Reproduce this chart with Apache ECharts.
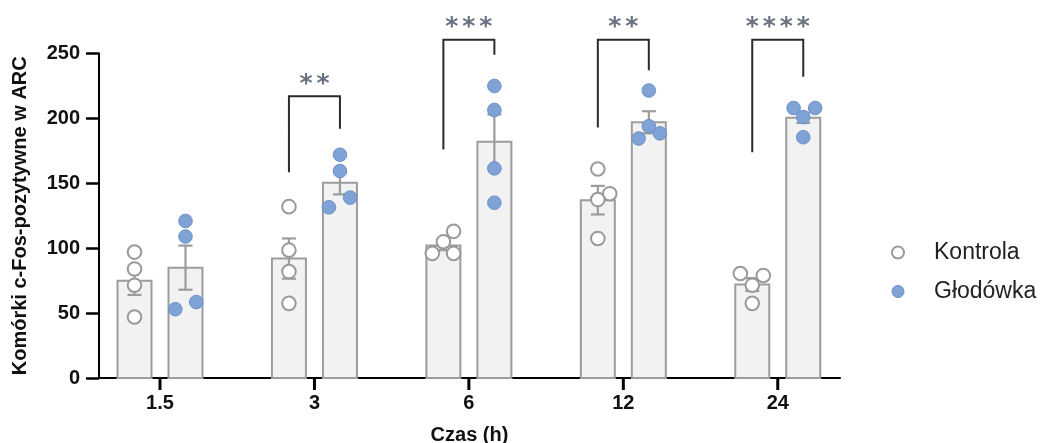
<!DOCTYPE html>
<html>
<head>
<meta charset="utf-8">
<script src="https://cdn.jsdelivr.net/npm/echarts@6/dist/echarts.min.js"></script>
<style>
  html, body { margin: 0; padding: 0; background: #fff; }
  #chart { width: 1041px; height: 443px; }
</style>
</head>
<body>
<div id="chart"></div>
<script>
// Time points (hours) and group summaries
const groups = ['1.5', '3', '6', '12', '24'];
const kontrolaMean = [75, 92, 102, 137, 72];
const kontrolaSem = [11, 15.5, 3.5, 11, 5];
const glodowkaMean = [85, 150.5, 182, 197, 200.5];
const glodowkaSem = [17, 9, 21, 8.5, 4];

// Individual animals per time point
const kontrolaPoints = [
  [97, 84, 71.5, 47],
  [132, 98.5, 82, 57.5],
  [113, 105, 96, 96],
  [161, 142, 137.5, 107.5],
  [80.5, 79, 71.5, 57.5]
];
const glodowkaPoints = [
  [121, 109, 53, 58.5],
  [172, 159.5, 139, 131.5],
  [225, 206.5, 161.5, 135],
  [221.5, 194, 184.5, 188.5],
  [208, 208, 201, 185.5]
];
// Horizontal spread of overlapping dots, as a fraction of the bar half-width
const kontrolaSpread = [
  [0, 0, 0, 0],
  [0, 0, 0, 0],
  [0.6, 0, -0.65, 0.6],
  [0, 0.7, 0, 0],
  [-0.7, 0.65, 0, 0]
];
const glodowkaSpread = [
  [0, 0, -0.6, 0.63],
  [0, 0, 0.6, -0.65],
  [0, 0, 0, 0],
  [0, 0, -0.6, 0.65],
  [-0.57, 0.7, 0, 0]
];

// Significance brackets: label, top of bracket, end of left leg, end of right leg
const sigLabel = ['', '**', '***', '**', '****'];
const bracketTop = [null, 217, 260.5, 260.5, 260.5];
const bracketLeftEnd = [null, 158.5, 176, 193, 174];
const bracketRightEnd = [null, 192, 249, 237, 232];

const yTicks = [0, 50, 100, 150, 200, 250];
const groupIndex = groups.map((g, i) => i);

// Drawing constants (pixels)
const BAR_HALF = 17;
const BAR_OFFSET = 25.5;
const CAP_HALF = 7;
const DOT_R = 6.8;
const BAR_FILL = '#f2f2f2';
const BAR_STROKE = '#9c9c9c';
const CTRL_STROKE = '#9a9a9a';
const FAST_FILL = '#7fa3d6';
const FAST_STROKE = '#6d91c6';
const FONT = 'Liberation Sans';

const chart = echarts.init(document.getElementById('chart'), null, { renderer: 'canvas' });

function barData(means, sems) {
  return means.map((m, i) => [i, m, sems[i]]);
}
function pointData(points, spread) {
  const out = [];
  points.forEach((vals, i) => vals.forEach((v, k) => out.push([i, v, spread[i][k]])));
  return out;
}

function renderBar(side) {
  return function (params, api) {
    const i = api.value(0);
    const top = api.coord([i, api.value(1)]);
    const base = api.coord([i, 0]);
    const cx = top[0] + side * BAR_OFFSET;
    return {
      type: 'rect',
      shape: { x: cx - BAR_HALF, y: top[1], width: BAR_HALF * 2, height: base[1] - top[1] },
      style: { fill: BAR_FILL, stroke: BAR_STROKE, lineWidth: 2 }
    };
  };
}

function renderError(side) {
  return function (params, api) {
    const i = api.value(0);
    const m = api.value(1);
    const s = api.value(2);
    const hi = api.coord([i, m + s]);
    const lo = api.coord([i, m - s]);
    const cx = hi[0] + side * BAR_OFFSET;
    const st = { stroke: BAR_STROKE, lineWidth: 2.2 };
    return {
      type: 'group',
      children: [
        { type: 'line', shape: { x1: cx, y1: hi[1], x2: cx, y2: lo[1] }, style: st },
        { type: 'line', shape: { x1: cx - CAP_HALF, y1: hi[1], x2: cx + CAP_HALF, y2: hi[1] }, style: st },
        { type: 'line', shape: { x1: cx - CAP_HALF, y1: lo[1], x2: cx + CAP_HALF, y2: lo[1] }, style: st }
      ]
    };
  };
}

function renderDots(side, fill, stroke, lw) {
  return function (params, api) {
    const i = api.value(0);
    const p = api.coord([i, api.value(1)]);
    const cx = p[0] + side * BAR_OFFSET + api.value(2) * BAR_HALF;
    return {
      type: 'circle',
      shape: { cx: cx, cy: p[1], r: DOT_R },
      style: { fill: fill, stroke: stroke, lineWidth: lw }
    };
  };
}

// Tick marks under each time point on the x axis
function renderTick(params, api) {
  const p = api.coord([api.value(0), 0]);
  return {
    type: 'line',
    shape: { x1: p[0], y1: p[1], x2: p[0], y2: p[1] + 12 },
    style: { stroke: '#000', lineWidth: 3 }
  };
}

const bracketData = [];
groups.forEach((g, i) => {
  if (sigLabel[i]) bracketData.push([i, bracketTop[i], bracketLeftEnd[i], bracketRightEnd[i], sigLabel[i].length]);
});

function renderBracket(params, api) {
  const i = api.value(0);
  const top = api.coord([i, api.value(1)]);
  const l = api.coord([i, api.value(2)]);
  const r = api.coord([i, api.value(3)]);
  const xl = top[0] - BAR_OFFSET;
  const xr = top[0] + BAR_OFFSET;
  const n = api.value(4);
  const children = [{
    type: 'polyline',
    shape: { points: [[xl, l[1]], [xl, top[1]], [xr, top[1]], [xr, r[1]]] },
    style: { stroke: '#2b2b2b', lineWidth: 2, fill: null }
  }];
  for (let k = 0; k < n; k++) {
    children.push({
      type: 'text',
      x: top[0] + (k - (n - 1) / 2) * 17,
      y: top[1] - 12,
      style: {
        text: '*', fill: '#6a7282', font: 'bold 25px "DejaVu Sans"',
        align: 'center', verticalAlign: 'middle'
      }
    });
  }
  return { type: 'group', children: children };
}

const option = {
  animation: false,
  backgroundColor: '#ffffff',
  grid: { left: 99, right: 201, top: 53.5, bottom: 65, outerBoundsMode: 'none', containLabel: false },
  xAxis: {
    type: 'value',
    min: -0.395,
    max: 4.403,
    splitLine: { show: false },
    axisLine: { lineStyle: { color: '#000', width: 2 } },
    axisTick: { show: false },
    axisLabel: {
      customValues: groupIndex,
      formatter: v => groups[Math.round(v)],
      margin: 15, color: '#111', fontSize: 20, fontWeight: 'bold', fontFamily: FONT
    },
    name: 'Czas (h)',
    nameLocation: 'middle',
    nameGap: 47,
    nameTextStyle: { color: '#111', fontSize: 20, fontWeight: 'bold', fontFamily: FONT }
  },
  yAxis: {
    type: 'value',
    min: yTicks[0],
    max: yTicks[yTicks.length - 1],
    interval: 50,
    splitLine: { show: false },
    axisLine: { show: true, onZero: false, lineStyle: { color: '#000', width: 2 } },
    axisTick: { show: true, length: 13, lineStyle: { color: '#000', width: 2.5 } },
    axisLabel: { margin: 19, color: '#111', fontSize: 20, fontWeight: 'bold', fontFamily: FONT },
    name: 'Komórki c-Fos-pozytywne w ARC',
    nameLocation: 'middle',
    nameGap: 69,
    nameTextStyle: { color: '#111', fontSize: 20, fontWeight: 'bold', fontFamily: FONT }
  },
  legend: {
    orient: 'vertical',
    left: 886,
    top: 236,
    itemWidth: 12,
    itemHeight: 12,
    itemGap: 16,
    icon: 'circle',
    selectedMode: false,
    textStyle: { fontSize: 23, color: '#222', fontFamily: FONT, padding: [0, 0, 0, 25] },
    data: [
      { name: 'Kontrola', itemStyle: { color: '#fff', borderColor: CTRL_STROKE, borderWidth: 2 } },
      { name: 'Głodówka', itemStyle: { color: FAST_FILL, borderColor: FAST_STROKE, borderWidth: 1 } }
    ]
  },
  series: [
    { type: 'custom', name: 'ticks', data: groupIndex.map(i => [i, 0]), renderItem: renderTick, encode: { x: 0, y: 1 }, clip: false, silent: true, z: 6 },
    { type: 'custom', name: 'barK', data: barData(kontrolaMean, kontrolaSem), renderItem: renderBar(-1), encode: { x: 0, y: 1 }, z: 2 },
    { type: 'custom', name: 'barG', data: barData(glodowkaMean, glodowkaSem), renderItem: renderBar(1), encode: { x: 0, y: 1 }, z: 2 },
    { type: 'custom', name: 'errK', data: barData(kontrolaMean, kontrolaSem), renderItem: renderError(-1), encode: { x: 0, y: 1 }, z: 3 },
    { type: 'custom', name: 'errG', data: barData(glodowkaMean, glodowkaSem), renderItem: renderError(1), encode: { x: 0, y: 1 }, z: 3 },
    {
      type: 'custom', name: 'Kontrola', data: pointData(kontrolaPoints, kontrolaSpread),
      renderItem: renderDots(-1, '#ffffff', CTRL_STROKE, 2),
      itemStyle: { color: '#fff', borderColor: CTRL_STROKE, borderWidth: 2 },
      encode: { x: 0, y: 1 }, z: 4
    },
    {
      type: 'custom', name: 'Głodówka', data: pointData(glodowkaPoints, glodowkaSpread),
      renderItem: renderDots(1, FAST_FILL, FAST_STROKE, 1),
      itemStyle: { color: FAST_FILL, borderColor: FAST_STROKE, borderWidth: 1 },
      encode: { x: 0, y: 1 }, z: 4
    },
    { type: 'custom', name: 'sig', data: bracketData, renderItem: renderBracket, encode: { x: 0, y: 1 }, clip: false, z: 5 }
  ]
};

chart.setOption(option);
</script>
</body>
</html>
